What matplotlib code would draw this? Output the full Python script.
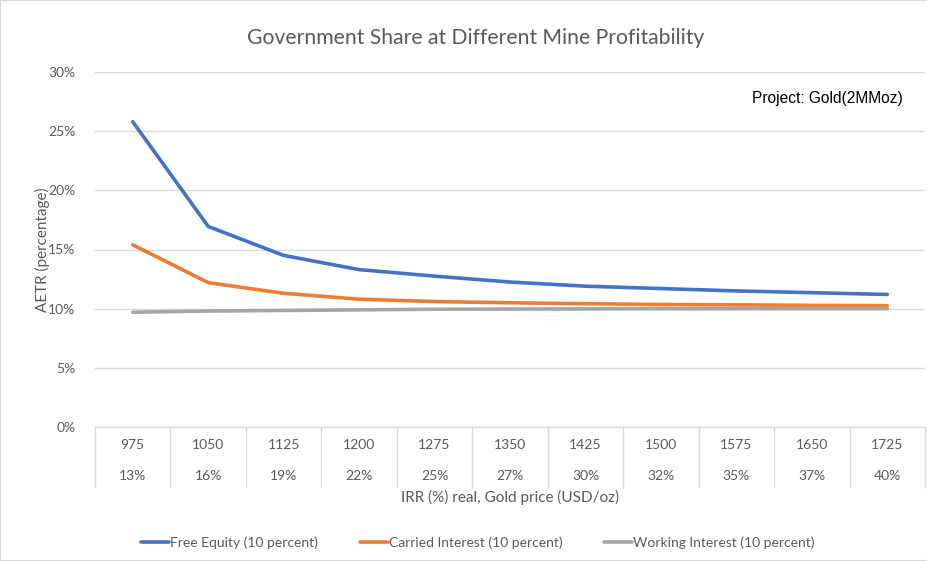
#!/usr/bin/env python3
"""Government share (AETR) at different mine profitability levels."""
import matplotlib
matplotlib.use("Agg")
import matplotlib.pyplot as plt
from matplotlib.patches import Rectangle
import matplotlib.transforms as mtransforms

# Data
gold_price = ["975", "1050", "1125", "1200", "1275", "1350", "1425", "1500", "1575", "1650", "1725"]
irr_labels = ["13%", "16%", "19%", "22%", "25%", "27%", "30%", "32%", "35%", "37%", "40%"]
free_equity = [25.8, 16.95, 14.5, 13.3, 12.75, 12.25, 11.9, 11.7, 11.5, 11.35, 11.2]
carried_interest = [15.4, 12.2, 11.3, 10.8, 10.6, 10.5, 10.42, 10.35, 10.32, 10.28, 10.25]
working_interest = [9.7, 9.8, 9.85, 9.9, 9.95, 9.97, 9.98, 10.0, 10.0, 10.0, 10.0]
y_ticks = [0, 5, 10, 15, 20, 25, 30]

plt.rcParams['font.family'] = ['Lato', 'DejaVu Sans']
TXT = '#595959'
GRID = '#d9d9d9'

W, H = 928, 561
fig = plt.figure(figsize=(W / 100, H / 100), dpi=100)
fig.patches.append(Rectangle((0, 0), 1, 1, transform=fig.transFigure,
                             fill=False, edgecolor=GRID, linewidth=1.5))

ax = fig.add_axes([95 / W, 1 - 427 / H, (925 - 95) / W, (427 - 72) / H])
x = list(range(len(gold_price)))

ax.plot(x, free_equity, color='#4472C4', lw=2.6, label='Free Equity (10 percent)', solid_capstyle='round')
ax.plot(x, carried_interest, color='#ED7D31', lw=2.6, label='Carried Interest (10 percent)', solid_capstyle='round')
ax.plot(x, working_interest, color='#A5A5A5', lw=2.6, label='Working Interest (10 percent)', solid_capstyle='round')

ax.set_xlim(-0.5, len(x) - 0.5)
ax.set_ylim(0, 30)
ax.set_yticks(y_ticks)
ax.set_yticklabels([f"{v}%" for v in y_ticks], color=TXT, fontsize=10)
ax.tick_params(axis='y', length=0, pad=14)
ax.grid(axis='y', color=GRID, lw=1)
ax.set_axisbelow(True)
for s in ['top', 'right', 'left']:
    ax.spines[s].set_visible(False)
ax.spines['bottom'].set_color(GRID)

# multi-level category axis
ax.set_xticks([])
ax.set_xticks([i - 0.5 for i in range(len(x) + 1)], minor=True)
ax.tick_params(axis='x', which='minor', length=44, color=GRID, width=1, labelbottom=False)
trans = mtransforms.blended_transform_factory(ax.transData, ax.transAxes)
for i in x:
    ax.text(i, -18 / 355, gold_price[i], transform=trans, ha='center', va='center',
            color=TXT, fontsize=10)
    ax.text(i, -49 / 355, irr_labels[i], transform=trans, ha='center', va='center',
            color=TXT, fontsize=10)

ax.text(0.5, -70 / 355, "IRR (%) real, Gold price (USD/oz)", transform=ax.transAxes,
        ha='center', va='center', color=TXT, fontsize=11)
fig.text(42 / W, 1 - 250 / H, "AETR (percentage)", rotation=90, ha='center', va='center',
         color=TXT, fontsize=11)
fig.text(476 / W, 1 - 38 / H, "Government Share at Different Mine Profitability",
         ha='center', va='center', color=TXT, fontsize=15.2)
fig.text(903 / W, 1 - 98 / H, "Project: Gold(2MMoz)", ha='right', va='center',
         color='black', fontsize=11.2, family='Liberation Sans')

fig.legend(loc='center', bbox_to_anchor=(478 / W, 1 - 543 / H), ncol=3, frameon=False,
           fontsize=10, handlelength=2.0, handletextpad=0.1, columnspacing=3.0,
           labelcolor=TXT)

fig.savefig("out.png", dpi=100)
